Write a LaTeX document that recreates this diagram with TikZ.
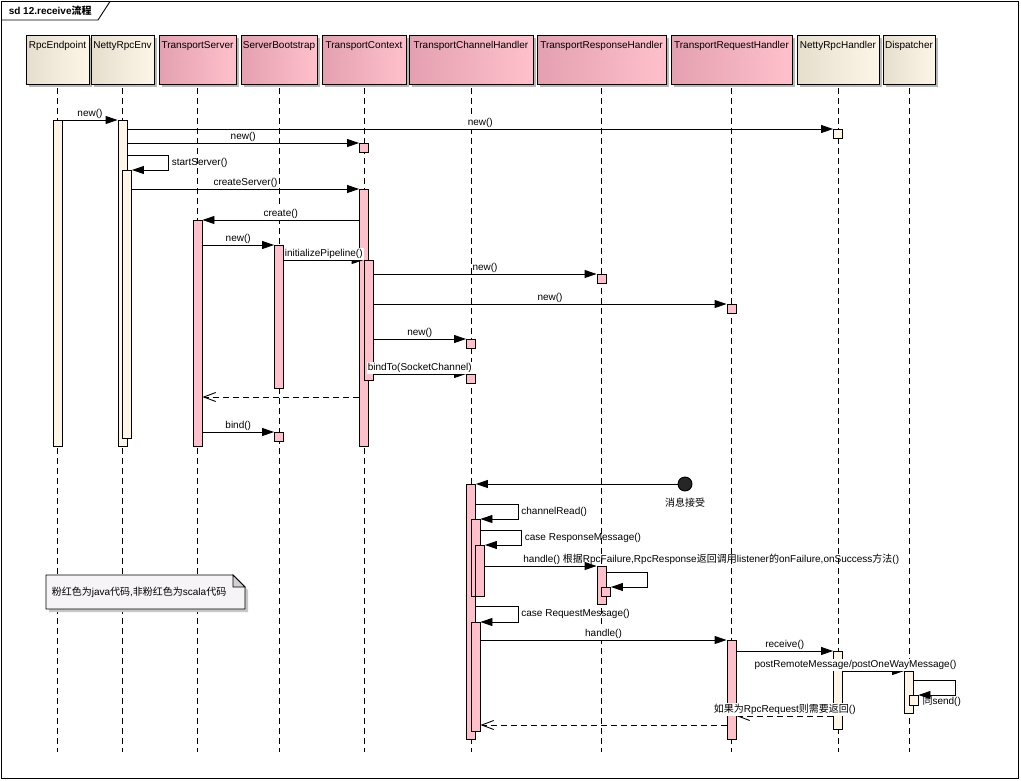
\documentclass[tikz,border=0pt]{standalone}
\usepackage{fontspec}
\setmainfont{Liberation Sans}
\newfontfamily\cjk{Noto Sans CJK SC}
\usepackage{tikz}
\usetikzlibrary{arrows.meta,shadows,positioning}
\definecolor{javapink}{RGB}{255,192,203}
\definecolor{javapinkdark}{RGB}{228,160,176}
\definecolor{scalacream}{RGB}{253,245,230}
\definecolor{scalacreamdark}{RGB}{230,222,205}
\definecolor{notegray}{RGB}{246,244,246}
\tikzstyle{head}=[rectangle, draw, anchor=north, text height=9pt, text depth=32pt,
                  inner ysep=4pt, inner xsep=1pt,
                  drop shadow={shadow xshift=3pt, shadow yshift=-3pt, fill=black!28, opacity=1}]
\tikzstyle{javahead}=[head, left color=javapinkdark, right color=javapink]
\tikzstyle{scalahead}=[head, left color=scalacreamdark, right color=scalacream]
\tikzstyle{bar}=[rectangle, draw, anchor=north, minimum width=9pt, inner sep=0pt]
\tikzstyle{javabar}=[bar, fill=javapink]
\tikzstyle{scalabar}=[bar, fill=scalacream]
\tikzstyle{lifeline}=[draw, dash pattern=on 6pt off 4pt]
\tikzstyle{msg}=[draw, -{Triangle[length=12pt,width=8pt]}]
\tikzstyle{ret}=[draw, dash pattern=on 6pt off 4pt, -{Straight Barb[length=12pt,width=9pt]}]
\tikzstyle{lbl}=[fill=white, inner sep=1pt]
\tikzstyle{lblclear}=[inner sep=1pt]
\begin{document}
\begin{tikzpicture}[x=1pt, y=-1pt, line width=0.9pt, font=\fontsize{10}{12}\selectfont]
    \useasboundingbox (0,0) rectangle (1021,780);
    \draw (1.5,1.5) rectangle (1018.5,778.5);
    \draw (1.5,20) -- (98,20) -- (110,1.5);
    \node [anchor=west, font=\fontsize{10}{12}\selectfont\bfseries] (title) at (5,11) {sd 12.receive{\cjk 流程}};
    \node [scalahead, minimum width=63pt]  (hRE)   at (57.5,35)  {RpcEndpoint};
    \node [scalahead, minimum width=63pt]  (hNRE)  at (122.5,35) {NettyRpcEnv};
    \node [javahead, minimum width=77pt]   (hTS)   at (197.5,35) {TransportServer};
    \node [javahead, minimum width=76pt]   (hSB)   at (279,35)   {ServerBootstrap};
    \node [javahead, minimum width=84pt]   (hTC)   at (364,35)   {TransportContext};
    \node [javahead, minimum width=124pt]  (hTCH)  at (471,35)   {TransportChannelHandler};
    \node [javahead, minimum width=129pt]  (hRspH) at (601.5,35) {TransportResponseHandler};
    \node [javahead, minimum width=121pt]  (hReqH) at (731.5,35) {TransportRequestHandler};
    \node [scalahead, minimum width=82pt]  (hNRH)  at (838,35)   {NettyRpcHandler};
    \node [scalahead, minimum width=52pt]  (hDisp) at (909,35)   {Dispatcher};
    \coordinate (eRE)   at (57.5,752);
    \coordinate (eNRE)  at (122.5,752);
    \coordinate (eTS)   at (197.5,752);
    \coordinate (eSB)   at (279,752);
    \coordinate (eTC)   at (364,752);
    \coordinate (eTCH)  at (471,752);
    \coordinate (eRspH) at (601.5,752);
    \coordinate (eReqH) at (731.5,752);
    \coordinate (eNRH)  at (838,752);
    \coordinate (eDisp) at (909,752);
    \path [lifeline] ([yshift=-3pt]hRE.south)   -- (eRE);
    \path [lifeline] ([yshift=-3pt]hNRE.south)  -- (eNRE);
    \path [lifeline] ([yshift=-3pt]hTS.south)   -- (eTS);
    \path [lifeline] ([yshift=-3pt]hSB.south)   -- (eSB);
    \path [lifeline] ([yshift=-3pt]hTC.south)   -- (eTC);
    \path [lifeline] ([yshift=-3pt]hTCH.south)  -- (eTCH);
    \path [lifeline] ([yshift=-3pt]hRspH.south) -- (eRspH);
    \path [lifeline] ([yshift=-3pt]hReqH.south) -- (eReqH);
    \path [lifeline] ([yshift=-3pt]hNRH.south)  -- (eNRH);
    \path [lifeline] ([yshift=-3pt]hDisp.south) -- (eDisp);
    \fill [black!22] (49,578) -- (236,578) -- (248,590) -- (248,612) -- (49,612) -- cycle;
    \filldraw [fill=notegray] (46,575) -- (233,575) -- (245,587) -- (245,609) -- (46,609) -- cycle;
    \filldraw [fill=black!18] (233,575) -- (233,587) -- (245,587) -- cycle;
    \node [anchor=west] (note) at (48,592) {{\cjk 粉红色为}java{\cjk 代码},{\cjk 非粉红色为}scala{\cjk 代码}};
    \node [scalabar, minimum height=326pt] (aRE)   at (57.5,120)  {};
    \node [scalabar, minimum height=326pt] (aNRE)  at (122.5,120) {};
    \node [scalabar, minimum height=268pt] (aNRE2) at (127,170)   {};
    \node [scalabar, minimum height=9pt]   (bNRH)  at (838,129)   {};
    \node [javabar, minimum height=9pt]    (bTC)   at (364,143)   {};
    \node [javabar, minimum height=257pt]  (aTC)   at (364,189)   {};
    \node [javabar, minimum height=226pt]  (aTS)   at (197.5,220) {};
    \node [javabar, minimum height=143pt]  (aSB)   at (279,245)   {};
    \node [javabar, minimum height=120pt]  (aTC2)  at (368.5,260) {};
    \node [javabar, minimum height=9pt]    (bRspH) at (601.5,274) {};
    \node [javabar, minimum height=9pt]    (bReqH) at (731.5,304) {};
    \node [javabar, minimum height=9pt]    (bTCH1) at (471,339)   {};
    \node [javabar, minimum height=9pt]    (bTCH2) at (471,374)   {};
    \node [javabar, minimum height=9pt]    (bSB)   at (279,432)   {};
    \node [javabar, minimum height=255pt]  (aTCH)  at (471,484)   {};
    \node [javabar, minimum height=77pt]   (aTCH2) at (475.5,519) {};
    \node [javabar, minimum height=51pt]   (aTCH3) at (480,545)   {};
    \node [javabar, minimum height=38pt]   (aRspH) at (601.5,566) {};
    \node [javabar, minimum height=9pt]    (aRspH2) at (606,587)  {};
    \node [javabar, minimum height=109pt]  (aTCH4) at (475.5,622) {};
    \node [javabar, minimum height=99pt]   (aReqH) at (731.5,640) {};
    \node [scalabar, minimum height=78pt]  (aNRH)  at (838,651)   {};
    \node [scalabar, minimum height=42pt]  (aDisp) at (909,671)   {};
    \node [scalabar, minimum height=10pt]  (aDisp2) at (913.5,695) {};
    \node [circle, draw, fill=black!85, minimum size=14pt, inner sep=0pt] (dot) at (685,484) {};
    \node [below=3pt of dot] (dotlbl) {\cjk 消息接受};
    \path [msg] (aRE.east |- aNRE.north) -- node[lbl, above] (m1) {new()} (aNRE.north west);
    \path [msg] (aNRE.east |- bNRH.north) -- node[lbl, above] (m2) {new()} (bNRH.north west);
    \path [msg] (aNRE.east |- bTC.north) -- node[lbl, above] (m3) {new()} (bTC.north west);
    \path [msg] (aNRE.east |- 0,155) -- ++(41,0) |- node[lblclear, pos=0.25, right=2pt] (m4) {startServer()} (aNRE2.north east);
    \path [msg] (aNRE2.east |- aTC.north) -- node[lbl, above] (m5) {createServer()} (aTC.north west);
    \path [msg] (aTC.west |- aTS.north) -- node[lbl, above] (m6) {create()} (aTS.north east);
    \path [msg] (aTS.east |- aSB.north) -- node[lbl, above] (m7) {new()} (aSB.north west);
    \path [msg] (aSB.east |- aTC2.north) -- node[lbl, above] (m8) {initializePipeline()} (aTC2.north west);
    \path [msg] (aTC2.east |- bRspH.north) -- node[lbl, above] (m9) {new()} (bRspH.north west);
    \path [msg] (aTC2.east |- bReqH.north) -- node[lbl, above] (m10) {new()} (bReqH.north west);
    \path [msg] (aTC2.east |- bTCH1.north) -- node[lbl, above] (m11) {new()} (bTCH1.north west);
    \path [msg] (aTC2.east |- bTCH2.north) -- node[lbl, above] (m12) {bindTo(SocketChannel)} (bTCH2.north west);
    \path [ret] (aTC.west |- 0,397) -- (aTS.east |- 0,397);
    \path [msg] (aTS.east |- bSB.north) -- node[lbl, above] (m13) {bind()} (bSB.north west);
    \path [msg] (dot) -- (aTCH.north east);
    \path [msg] (aTCH.east |- 0,504) -- ++(42,0) |- node[lblclear, pos=0.25, right=2pt] (m15) {channelRead()} (aTCH2.north east);
    \path [msg] (aTCH2.east |- 0,530) -- ++(41,0) |- node[lblclear, pos=0.25, right=2pt] (m16) {case ResponseMessage()} (aTCH3.north east);
    \path [msg] (aTCH3.east |- aRspH.north) -- node[lblclear, pos=0, anchor=south west, xshift=37pt] (m17)
        {handle() {\cjk 根据}RpcFailure,RpcResponse{\cjk 返回调用}listener{\cjk 的}onFailure,onSuccess{\cjk 方法}()} (aRspH.north west);
    \path [msg] (aRspH.east |- 0,572) -- ++(41,0) |- (aRspH2.north east);
    \path [msg] (aTCH.east |- 0,606) -- ++(42,0) |- node[lblclear, pos=0.25, right=2pt] (m19) {case RequestMessage()} (aTCH4.north east);
    \path [msg] (aTCH4.east |- aReqH.north) -- node[lbl, above] (m20) {handle()} (aReqH.north west);
    \path [msg] (aReqH.east |- aNRH.north) -- node[lbl, above] (m21) {receive()} (aNRH.north west);
    \path [msg] (aNRH.east |- aDisp.north) -- node[lbl, above, xshift=-18pt] (m22) {postRemoteMessage/postOneWayMessage()} (aDisp.north west);
    \path [msg] (aDisp.east |- 0,680) -- ++(41,0) |- node[lblclear, pos=0.75, below, xshift=5pt] (m23) {{\cjk 同}send()} (aDisp2.north east);
    \path [ret] (aNRH.west |- 0,716) -- node[lbl, above] (r2) {{\cjk 如果为}RpcRequest{\cjk 则需要返回}()} (aReqH.east |- 0,716);
    \path [ret] (aReqH.west |- 0,725) -- (aTCH4.east |- 0,725);
\end{tikzpicture}
\end{document}
